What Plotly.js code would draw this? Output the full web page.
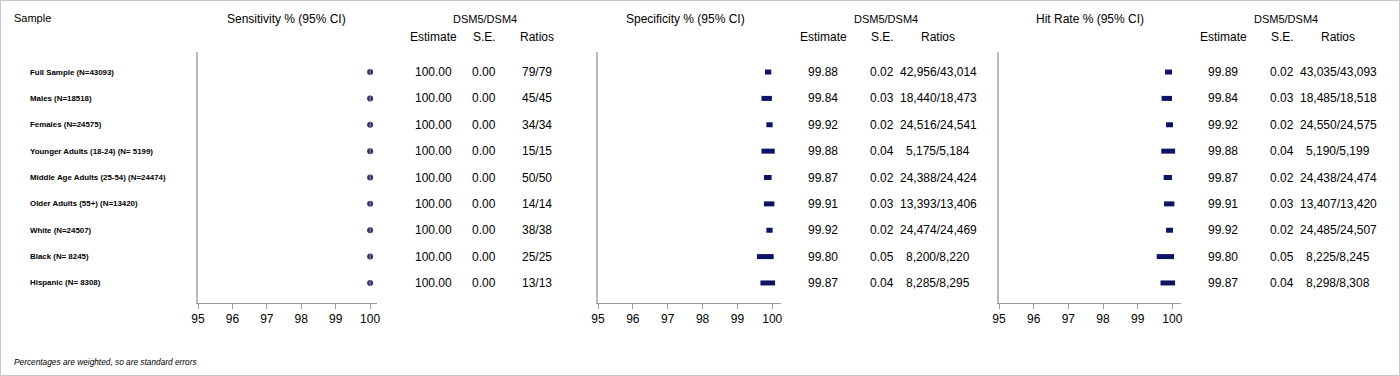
<!DOCTYPE html>
<html>
<head>
<meta charset="utf-8">
<script src="https://cdn.plot.ly/plotly-3.0.1.min.js"></script>
<style>html,body{margin:0;padding:0;background:#fff;}#chart{width:1400px;height:376px;}</style>
</head>
<body>
<div id="chart"></div>
<script>
// ---- Data ----
const categories = [
  "Full Sample (N=43093)",
  "Males (N=18518)",
  "Females (N=24575)",
  "Younger Adults (18-24) (N= 5199)",
  "Middle Age Adults (25-54) (N=24474)",
  "Older Adults (55+) (N=13420)",
  "White (N=24507)",
  "Black (N= 8245)",
  "Hispanic (N= 8308)"
];
const xTicks = [95, 96, 97, 98, 99, 100];

const sensEst = [100, 100, 100, 100, 100, 100, 100, 100, 100];
const sensSE  = [0, 0, 0, 0, 0, 0, 0, 0, 0];
const sensNum = [79, 45, 34, 15, 50, 14, 38, 25, 13];
const sensDen = [79, 45, 34, 15, 50, 14, 38, 25, 13];

const specEst = [99.88, 99.84, 99.92, 99.88, 99.87, 99.91, 99.92, 99.80, 99.87];
const specSE  = [0.02, 0.03, 0.02, 0.04, 0.02, 0.03, 0.02, 0.05, 0.04];
const specNum = [42956, 18440, 24516, 5175, 24388, 13393, 24474, 8200, 8285];
const specDen = [43014, 18473, 24541, 5184, 24424, 13406, 24469, 8220, 8295];
const specCIHalf = [0.09, 0.15, 0.09, 0.19, 0.11, 0.15, 0.09, 0.24, 0.21];

const hitEst = [99.89, 99.84, 99.92, 99.88, 99.87, 99.91, 99.92, 99.80, 99.87];
const hitSE  = [0.02, 0.03, 0.02, 0.04, 0.02, 0.03, 0.02, 0.05, 0.04];
const hitNum = [43035, 18485, 24550, 5190, 24438, 13407, 24485, 8225, 8298];
const hitDen = [43093, 18518, 24575, 5199, 24474, 13420, 24507, 8245, 8308];
const hitCIHalf = [0.10, 0.15, 0.10, 0.20, 0.12, 0.15, 0.10, 0.25, 0.21];

// ---- Helpers ----
const W = 1400, H = 376;
const px = v => v / W;
const py = v => 1 - v / H;
const fmt = n => n.toLocaleString('en-US');
const FONT = "Liberation Sans, Arial, sans-serif";
const NAVY = "#0d1466";

const traces = [
  {x: sensEst, y: categories, xaxis: 'x', yaxis: 'y', type: 'scatter', mode: 'markers',
   marker: {symbol: 'circle', size: 6, color: '#1c3191'}, hoverinfo: 'skip', showlegend: false},
  {x: sensEst, y: categories, xaxis: 'x', yaxis: 'y', type: 'scatter', mode: 'markers',
   marker: {symbol: 'line-ns-open', size: 4, line: {color: '#a8b6e6', width: 1}}, hoverinfo: 'skip', showlegend: false},
  {x: specEst, y: categories, xaxis: 'x2', yaxis: 'y2', type: 'scatter', mode: 'markers',
   marker: {size: 1, color: NAVY},
   error_x: {type: 'data', array: specCIHalf, symmetric: true, thickness: 5, width: 0, color: NAVY},
   hoverinfo: 'skip', showlegend: false},
  {x: hitEst, y: categories, xaxis: 'x3', yaxis: 'y3', type: 'scatter', mode: 'markers',
   marker: {size: 1, color: NAVY},
   error_x: {type: 'data', array: hitCIHalf, symmetric: true, thickness: 5, width: 0, color: NAVY},
   hoverinfo: 'skip', showlegend: false}
];

const yDomain = [py(303), py(52)];
const yRange = [8.76, -0.76];
function xAxis(d0, d1, r1, anchor) {
  return {domain: [px(d0), px(d1)], range: [95, r1], anchor: anchor, tickvals: xTicks,
    ticktext: xTicks.map(String), ticks: 'outside', ticklen: 5, tickcolor: '#999', tickwidth: 1,
    showline: true, linecolor: '#999', linewidth: 1, showgrid: false, zeroline: false,
    tickfont: {family: FONT, size: 12, color: '#000'}, fixedrange: true};
}
function yAxis(anchor) {
  return {domain: yDomain, range: yRange, type: 'category', anchor: anchor, showticklabels: false,
    ticks: '', showline: true, linecolor: '#b8bcc0', linewidth: 2, showgrid: false, zeroline: false, fixedrange: true};
}

const ann = [];
function txt(text, x, y, opts) {
  ann.push(Object.assign({text: text, x: x, y: y, xref: 'paper', yref: 'paper', showarrow: false,
    xanchor: 'center', yanchor: 'middle', font: {family: FONT, size: 12, color: '#000'}}, opts || {}));
}
// headers
txt('Sample', px(12), py(18), {xanchor: 'left', font: {family: FONT, size: 11, color: '#000'}});
txt('Sensitivity % (95% CI)', px(286), py(19), {font: {family: FONT, size: 12, color: '#000'}});
txt('Specificity % (95% CI)', px(685), py(19), {font: {family: FONT, size: 12, color: '#000'}});
txt('Hit Rate % (95% CI)', px(1090), py(19), {font: {family: FONT, size: 12, color: '#000'}});

const tables = [
  {cx: [433, 484, 537], dsm: 485, est: sensEst, se: sensSE, num: sensNum, den: sensDen},
  {cx: [823, 882, 938], dsm: 886, est: specEst, se: specSE, num: specNum, den: specDen},
  {cx: [1223, 1282, 1338], dsm: 1286, est: hitEst, se: hitSE, num: hitNum, den: hitDen}
];
tables.forEach(t => {
  txt('DSM5/DSM4', px(t.dsm), py(19), {font: {family: FONT, size: 11, color: '#000'}});
  txt('Estimate', px(t.cx[0]), py(37));
  txt('S.E.', px(t.cx[1]), py(37));
  txt('Ratios', px(t.cx[2]), py(37));
  categories.forEach((c, i) => {
    const o = {yref: 'y'};
    txt(t.est[i].toFixed(2), px(t.cx[0]), c, o);
    txt(t.se[i].toFixed(2), px(t.cx[1]), c, o);
    txt(fmt(t.num[i]) + '/' + fmt(t.den[i]), px(t.cx[2]), c, o);
  });
});
// row labels
categories.forEach(c => {
  txt('<b>' + c + '</b>', px(28), c, {yref: 'y', xanchor: 'left', font: {family: FONT, size: 7.9, color: '#000'}});
});
// footnote
txt('<i>Percentages are weighted, so are standard errors</i>', px(12), py(362),
  {xanchor: 'left', font: {family: FONT, size: 8.3, color: '#000'}});

const layout = {
  width: W, height: H,
  margin: {l: 0, r: 0, t: 0, b: 0, pad: 0},
  paper_bgcolor: '#fff', plot_bgcolor: '#fff',
  showlegend: false,
  xaxis: xAxis(198, 377, 100.2, 'y'),
  yaxis: yAxis('x'),
  xaxis2: xAxis(598, 781, 100.25, 'y2'),
  yaxis2: yAxis('x2'),
  xaxis3: xAxis(999, 1181, 100.25, 'y3'),
  yaxis3: yAxis('x3'),
  annotations: ann,
  shapes: [{type: 'rect', xref: 'paper', yref: 'paper', x0: 0, x1: 1, y0: 0, y1: 1,
    line: {color: '#c8c8c8', width: 2}, fillcolor: 'rgba(0,0,0,0)'}]
};

Plotly.newPlot('chart', traces, layout, {staticPlot: true, displayModeBar: false});
</script>
</body>
</html>
